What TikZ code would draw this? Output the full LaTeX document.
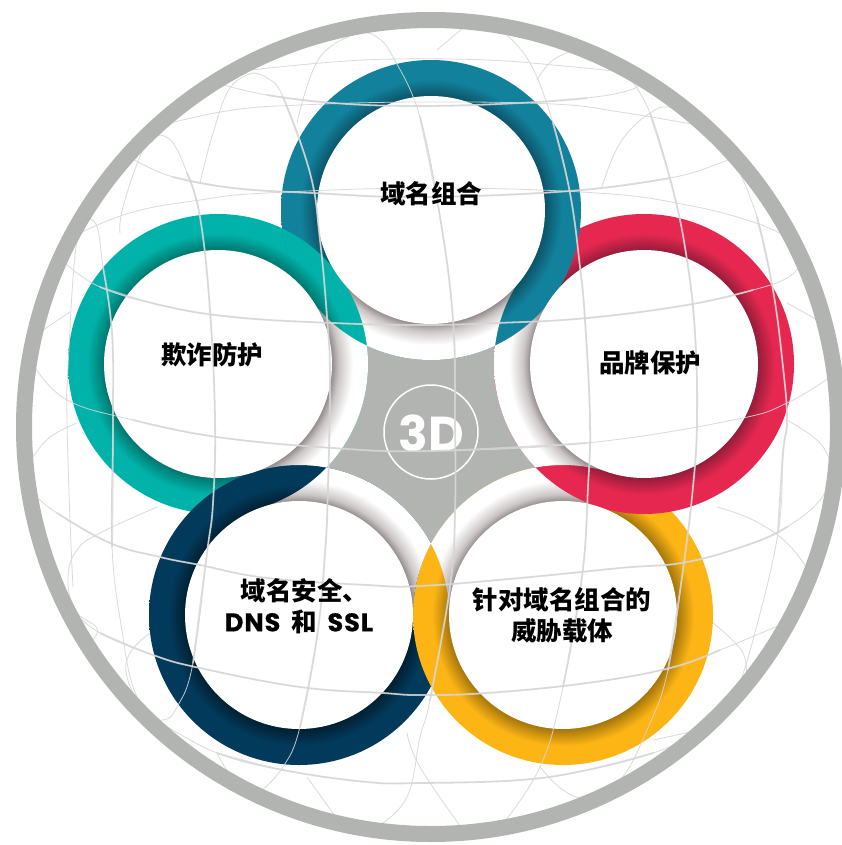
\documentclass[tikz,border=0pt]{standalone}
\usepackage{fontspec}
\usetikzlibrary{calc}
\setmainfont{Liberation Sans}
\newfontfamily\cjk{Noto Sans CJK SC}
\newfontfamily\geo{Poppins}
\newfontfamily\geom{Poppins}[FakeBold=0.5,LetterSpace=4]
\definecolor{ringgrey}{RGB}{178,180,178}
\definecolor{linegrey}{RGB}{214,214,214}
\definecolor{cTop}{RGB}{18,129,156}\definecolor{dTop}{RGB}{12,84,104}
\definecolor{cTeal}{RGB}{0,178,169}\definecolor{dTeal}{RGB}{0,118,110}
\definecolor{cRed}{RGB}{230,40,80}\definecolor{dRed}{RGB}{150,28,58}
\definecolor{cYel}{RGB}{253,181,21}\definecolor{dYel}{RGB}{165,118,12}
\definecolor{cNavy}{RGB}{2,58,92}\definecolor{dNavy}{RGB}{1,32,50}
\definecolor{sA}{RGB}{150,142,142}\definecolor{sB}{RGB}{205,200,200}
\pgfdeclareradialshading{shTop}{\pgfpoint{0bp}{0bp}}{color(0bp)=(dTop);color(19bp)=(dTop);color(21.8bp)=(cTop);color(50bp)=(cTop)}
\pgfdeclareradialshading{shTeal}{\pgfpoint{0bp}{0bp}}{color(0bp)=(dTeal);color(19bp)=(dTeal);color(21.8bp)=(cTeal);color(50bp)=(cTeal)}
\pgfdeclareradialshading{shRed}{\pgfpoint{0bp}{0bp}}{color(0bp)=(dRed);color(19bp)=(dRed);color(21.8bp)=(cRed);color(50bp)=(cRed)}
\pgfdeclareradialshading{shYel}{\pgfpoint{0bp}{0bp}}{color(0bp)=(dYel);color(19bp)=(dYel);color(21.8bp)=(cYel);color(50bp)=(cYel)}
\pgfdeclareradialshading{shNavy}{\pgfpoint{0bp}{0bp}}{color(0bp)=(dNavy);color(19bp)=(dNavy);color(21.8bp)=(cNavy);color(50bp)=(cNavy)}
\pgfdeclareradialshading{shWhite}{\pgfpoint{0bp}{0bp}}{color(0bp)=(sA);color(19bp)=(sA);color(20.2bp)=(sB);color(22.5bp)=(white);color(50bp)=(white)}
\tikzset{
  thickline/.style={draw=linegrey,draw opacity=.8,line width=1.8pt,line cap=round},
  thinline/.style={draw=linegrey,draw opacity=.9,line width=.8pt,line cap=round},
  label/.style={font=\cjk\bfseries\fontsize{25.5}{31}\selectfont,align=center,text=black,inner sep=0pt}
}
\newcommand\ringdisc[2]{\shade[shading=#2] (#1) circle[radius=150pt];}
\newcommand\whitepart[3]{%
  \begin{scope}[even odd rule]
  \clip (#1)--($(#1)!3!(#2)$)--($(#1)!3!(S)$)--($(#1)!3!(#3)$)--cycle;
  \clip (-900,-900) rectangle (1800,1800) (#2) circle[radius=150pt];
  \clip (-900,-900) rectangle (1800,1800) (#3) circle[radius=150pt];
  \shade[shading=shWhite] (#1) circle[radius=150pt];
  \end{scope}}
\newcommand\gl[2]{\path[#1] plot[smooth,tension=.7] coordinates {#2};}
% a line with thin tails: first tail, thick middle, last tail
\newcommand\glt[3]{\gl{thinline}{#1#2#3}\gl{thickline}{#2}}
\begin{document}
\begin{tikzpicture}[x=1pt,y=-1pt]
\useasboundingbox (0,0) rectangle (841,845);
\fill[white] (0,0) rectangle (841,845);
\coordinate (S) at (431,432);
\coordinate (T) at (431,210);
\coordinate (L) at (218,364);
\coordinate (R) at (644,364);
\coordinate (BL) at (299,615);
\coordinate (BR) at (563,615);
% central star
\fill[ringgrey] (S) circle[radius=118pt];
% coloured discs: each one lies over the next in the cycle
\ringdisc{L}{shTeal}
\ringdisc{BL}{shNavy}
\ringdisc{BR}{shYel}
\ringdisc{R}{shRed}
\ringdisc{T}{shTop}
\begin{scope}
  \clip (T) circle[radius=150pt];
  \ringdisc{L}{shTeal}
\end{scope}
% parts of the rings that face the centre
\whitepart{T}{L}{R}
\whitepart{R}{T}{BR}
\whitepart{BR}{R}{BL}
\whitepart{BL}{BR}{L}
\whitepart{L}{BL}{T}
% inner discs
\foreach \c in {T,L,R,BL,BR} \fill[white] (\c) circle[radius=114pt];
% centre badge
\draw[white,line width=1.5pt] (S) circle[radius=47pt];
\node[font=\geo\bfseries\fontsize{49}{49}\selectfont,text=white,inner sep=0pt] (threeD) at (431,433) {3D};
% globe: latitudes
\glt{(224,85)}{(267,95)(333,103)(420,106)(520,103)(587,98)}{(627,91)(643,83)}
\glt{(133,159)}{(173,177)(233,188)(313,193)(420,197)(570,191)(670,178)}{(720,163)(732,157)}
\glt{(65,263)}{(100,287)(160,305)(233,317)(333,323)(420,325)(497,323)(587,318)(687,305)(753,290)}{(787,278)(802,263)}
\glt{(35,367)(67,400)}{(133,420)(217,437)(333,448)(431,451)(587,443)}{(733,420)(787,403)(833,375)}
\glt{(35,495)}{(57,513)(110,543)(160,557)(200,565)(267,578)(367,585)(420,586)(520,578)(620,568)(687,562)(753,543)(787,527)}{(820,500)(833,470)}
\glt{(72,610)}{(100,633)(153,655)(200,668)(300,687)(383,693)(420,695)(487,693)(587,683)(670,668)(720,650)}{(787,622)}
\glt{(160,722)}{(217,753)(283,770)(367,782)(420,783)(520,780)(587,770)(653,753)}{(707,730)}
% globe: longitudes
\glt{(503,32)(530,63)}{(553,123)(570,193)(580,267)(585,320)(590,420)(588,487)(582,577)(563,687)}{(540,767)(500,827)}
\glt{(362,32)(377,37)(393,57)}{(420,117)(440,217)(453,320)(455,420)(455,513)(450,587)(430,700)}{(420,737)(407,797)(377,827)}
\glt{(253,73)(267,78)}{(283,97)(310,173)(320,240)(327,317)(330,377)(328,487)(325,553)(317,637)(300,727)}{(283,767)(260,792)}
\glt{(160,135)(173,143)}{(187,173)(200,217)(210,310)(215,420)(213,503)(207,553)(193,663)}{(177,707)(163,720)(143,713)(128,687)}
\glt{(92,220)(98,230)}{(103,267)(112,333)(113,420)(112,547)}{(123,637)(133,687)(147,713)}
\glt{(627,75)}{(650,113)(673,190)(687,260)(695,333)(697,420)(693,487)(683,570)(668,670)}{(647,730)(620,780)(587,797)(563,790)(540,767)}
\glt{(735,162)}{(757,217)(773,290)(783,367)(787,420)(783,453)(778,533)}{(753,640)(733,703)}
% globe: thin arcs
\gl{thinline}{(250,70)(333,62)(400,59)(487,60)(553,65)(623,72)}
\gl{thinline}{(170,123)(233,110)(300,105)(420,102)(553,104)(620,112)(697,125)}
\gl{thinline}{(80,233)(133,212)(200,200)(267,193)(431,188)(597,193)(687,205)(753,222)(787,237)}
\gl{thinline}{(43,330)(70,312)}
\gl{thinline}{(787,303)(823,323)}
\gl{thinline}{(33,457)(50,437)(77,423)}
\gl{thinline}{(787,420)(820,443)(833,470)}
\gl{thinline}{(157,507)(100,533)(77,550)(68,577)(75,610)(97,628)(92,640)}
\gl{thinline}{(717,507)(753,520)(787,543)(810,573)}
\gl{thinline}{(150,633)(130,653)(127,677)(143,713)}
\gl{thinline}{(713,623)(743,653)(745,683)}
\gl{thinline}{(537,80)(553,60)(580,48)}
\gl{thinline}{(602,187)(620,143)(650,113)(673,108)(697,125)}
\gl{thinline}{(297,123)(320,57)(362,32)}
\gl{thinline}{(437,50)(463,28)}
\gl{thinline}{(253,73)(230,88)(213,133)(200,183)}
\gl{thinline}{(160,135)(143,150)(123,207)(120,233)}
\gl{thinline}{(92,220)(77,240)(68,367)(67,420)(70,520)(73,587)}
\gl{thinline}{(217,753)(233,777)(260,792)}
\gl{thinline}{(307,777)(340,823)}
\gl{thinline}{(407,733)(420,767)(463,830)}
\gl{thinline}{(653,740)(700,730)}
% outer ring
\draw[ringgrey,line width=16pt] (431,427) circle[radius=407pt];
% labels
\node[label] (n1) at (431,194) {域名组合};
\node[label] (n2) at (212,355) {欺诈防护};
\node[label] (n3) at (650,363) {品牌保护};
\node[label] (n4) at (299,606) {\hspace*{11pt}域名安全、\\{\geom DNS}\hspace{5pt} {\cjk\bfseries 和} \hspace{5pt}{\geom SSL}};
\node[label] (n5) at (562,615) {针对域名组合的\\威胁载体};
\end{tikzpicture}
\end{document}
